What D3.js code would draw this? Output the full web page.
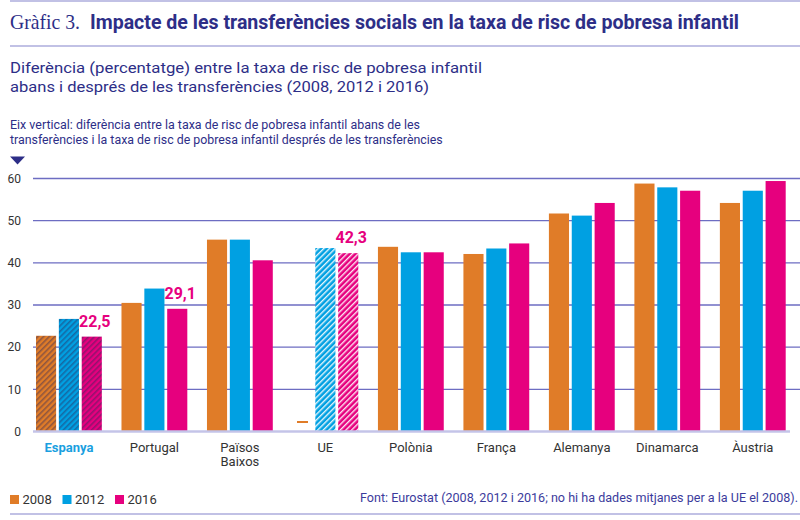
<!DOCTYPE html>
<html>
<head>
<meta charset="utf-8">
<script src="https://cdn.jsdelivr.net/npm/d3@7"></script>
<style>
body { margin: 0; background: #fff; }
svg { display: block; font-family: Roboto, "Liberation Sans", sans-serif; }
</style>
</head>
<body>
<svg width="800" height="520"></svg>
<script>
var categories = ['Espanya', 'Portugal', 'Països Baixos', 'UE', 'Polònia', 'França', 'Alemanya', 'Dinamarca', 'Àustria']
var years = ['2008', '2012', '2016']
var values2008 = [22.7, 30.5, 45.5, null, 43.8, 42.1, 51.7, 58.8, 54.2]
var values2012 = [26.7, 33.9, 45.5, 43.5, 42.5, 43.4, 51.2, 57.9, 57.1]
var values2016 = [22.5, 29.1, 40.6, 42.3, 42.5, 44.6, 54.2, 57.1, 59.4]
var yTicks = [0, 10, 20, 30, 40, 50, 60]
var labelled = [['Espanya', '2016', '22,5'], ['Portugal', '2016', '29,1'], ['UE', '2016', '42,3']]

var colors = {'2008': '#e07c28', '2012': '#00a0e2', '2016': '#e6007e'}
var navy = '#2d2e87'
var hatchStyle = {'Espanya': 'dark', 'UE': 'light'}

var series = {'2008': values2008, '2012': values2012, '2016': values2016}
var rows = []
categories.forEach(function(c, i){
    years.forEach(function(y){
        rows.push({cat: c, year: y, value: series[y][i]})
    })
})

var svg = d3.select('svg')

// hatch patterns
var defs = svg.append('defs')
years.forEach(function(y){
    ['dark', 'light'].forEach(function(kind){
        var p = defs.append('pattern')
            .attr('id', 'hatch-' + kind + '-' + y)
            .attr('patternUnits', 'userSpaceOnUse')
            .attr('width', 4)
            .attr('height', 4)
            .attr('patternTransform', 'rotate(45)')
        p.append('rect')
            .attr('width', 4).attr('height', 4)
            .attr('fill', colors[y])
        p.append('rect')
            .attr('width', kind == 'dark' ? 1.6 : 1.4).attr('height', 4)
            .attr('fill', kind == 'dark' ? 'rgba(45,40,90,0.45)' : 'rgba(255,255,255,0.9)')
    })
})

var x = d3.scaleBand()
    .domain(categories)
    .range([36, 785.7])
    .paddingInner(0.23)
    .paddingOuter(0)

var xYear = d3.scaleBand()
    .domain(years)
    .range([0, x.bandwidth()])
    .paddingInner(0.12)

var y = d3.scaleLinear()
    .domain([0, 60])
    .range([431.5, 178.5])

// header rules
svg.selectAll('line.rule')
    .data([1, 46, 514])
    .enter()
    .append('line')
    .attr('class', 'rule')
    .attr('x1', 10).attr('x2', 800)
    .attr('y1', function(d){ return d })
    .attr('y2', function(d){ return d })
    .style('stroke', '#acacdc')
    .style('stroke-width', 1.5)

svg.append('text')
    .attr('x', 10).attr('y', 29.3)
    .attr('textLength', 70).attr('lengthAdjust', 'spacingAndGlyphs')
    .style('font-family', '"Liberation Serif", "DejaVu Serif", serif')
    .style('font-size', '21px')
    .style('fill', navy)
    .text('Gràfic 3.')

svg.append('text')
    .attr('x', 90).attr('y', 29.3)
    .attr('textLength', 649).attr('lengthAdjust', 'spacingAndGlyphs')
    .style('font-size', '20px')
    .style('font-weight', 'bold')
    .style('fill', navy)
    .text('Impacte de les transferències socials en la taxa de risc de pobresa infantil')

var subtitle = [
    ['Diferència (percentatge) entre la taxa de risc de pobresa infantil', 72.7, 472],
    ['abans i després de les transferències (2008, 2012 i 2016)', 91.7, 419]
]
svg.selectAll('text.sub')
    .data(subtitle)
    .enter()
    .append('text')
    .attr('class', 'sub')
    .attr('x', 10)
    .attr('y', function(d){ return d[1] })
    .attr('textLength', function(d){ return d[2] })
    .attr('lengthAdjust', 'spacingAndGlyphs')
    .style('font-size', '15.5px')
    .style('fill', navy)
    .text(function(d){ return d[0] })

var axisNote = [
    ['Eix vertical: diferència entre la taxa de risc de pobresa infantil abans de les', 129, 410],
    ['transferències i la taxa de risc de pobresa infantil després de les transferències', 144, 432.7]
]
svg.selectAll('text.note')
    .data(axisNote)
    .enter()
    .append('text')
    .attr('class', 'note')
    .attr('x', 10)
    .attr('y', function(d){ return d[1] })
    .attr('textLength', function(d){ return d[2] })
    .attr('lengthAdjust', 'spacingAndGlyphs')
    .style('font-size', '12px')
    .style('fill', navy)
    .text(function(d){ return d[0] })

svg.append('path')
    .attr('d', 'M10,156.5 L25,156.5 L17.5,164.5 Z')
    .style('fill', navy)

// grid
svg.selectAll('line.grid')
    .data(yTicks.slice(1))
    .enter()
    .append('line')
    .attr('class', 'grid')
    .attr('x1', 33).attr('x2', 800)
    .attr('y1', function(d){ return y(d) })
    .attr('y2', function(d){ return y(d) })
    .style('stroke', '#6d6dc2')
    .style('stroke-width', 1.3)

svg.selectAll('text.ytick')
    .data(yTicks)
    .enter()
    .append('text')
    .attr('class', 'ytick')
    .attr('x', 21)
    .attr('y', function(d){ return y(d) })
    .attr('dy', '0.35em')
    .attr('text-anchor', 'end')
    .style('font-size', '12px')
    .style('fill', '#333')
    .text(function(d){ return d })

// bars
svg.selectAll('rect.bar')
    .data(rows.filter(function(d){ return d.value != null }))
    .enter()
    .append('rect')
    .attr('class', 'bar')
    .attr('x', function(d){ return x(d.cat) + xYear(d.year) })
    .attr('width', xYear.bandwidth())
    .attr('y', function(d){ return y(d.value) })
    .attr('height', function(d){ return y(0) - y(d.value) })
    .attr('fill', function(d){
        var h = hatchStyle[d.cat]
        return h ? 'url(#hatch-' + h + '-' + d.year + ')' : colors[d.year]
    })

// missing value marker
svg.selectAll('line.missing')
    .data(rows.filter(function(d){ return d.value == null }))
    .enter()
    .append('line')
    .attr('class', 'missing')
    .attr('x1', function(d){ return x(d.cat) + xYear(d.year) + xYear.bandwidth() / 2 - 5.5 })
    .attr('x2', function(d){ return x(d.cat) + xYear(d.year) + xYear.bandwidth() / 2 + 5.5 })
    .attr('y1', y(0) - 9.5)
    .attr('y2', y(0) - 9.5)
    .style('stroke', colors['2008'])
    .style('stroke-width', 2)

svg.append('line')
    .attr('x1', 33).attr('x2', 790)
    .attr('y1', y(0)).attr('y2', y(0))
    .style('stroke', '#c4c4e8')
    .style('stroke-width', 2.5)

// value labels
svg.selectAll('text.value')
    .data(labelled)
    .enter()
    .append('text')
    .attr('class', 'value')
    .attr('x', function(d){ return x(d[0]) + xYear(d[1]) + xYear.bandwidth() / 2 + 3 })
    .attr('y', function(d){
        var v = series[d[1]][categories.indexOf(d[0])]
        return y(v) - 10
    })
    .attr('text-anchor', 'middle')
    .style('font-size', '16px')
    .style('font-weight', 'bold')
    .style('fill', colors['2016'])
    .text(function(d){ return d[2] })

// category labels
var catLabels = svg.selectAll('text.cat')
    .data(categories)
    .enter()
    .append('text')
    .attr('class', 'cat')
    .attr('text-anchor', 'middle')
    .attr('y', 451.7)
    .style('font-size', '13px')
    .style('fill', function(d){ return d == 'Espanya' ? '#1a9fe0' : '#333' })
    .style('font-weight', function(d){ return d == 'Espanya' ? 'bold' : 'normal' })

catLabels.selectAll('tspan')
    .data(function(d){
        var parts = d == 'Països Baixos' ? ['Països', 'Baixos'] : [d]
        return parts.map(function(p){ return {text: p, cat: d} })
    })
    .enter()
    .append('tspan')
    .attr('x', function(d){ return x(d.cat) + x.bandwidth() / 2 })
    .attr('dy', function(d, i){ return i == 0 ? 0 : 14 })
    .text(function(d){ return d.text })

// legend
var legend = svg.selectAll('g.legend')
    .data(years)
    .enter()
    .append('g')
    .attr('class', 'legend')
    .attr('transform', function(d, i){ return 'translate(' + (10 + i * 52.5) + ',495)' })

legend.append('rect')
    .attr('width', 9).attr('height', 9)
    .attr('fill', function(d){ return colors[d] })

legend.append('text')
    .attr('x', 12.5).attr('y', 9)
    .style('font-size', '13px')
    .style('fill', '#333')
    .text(function(d){ return d })

svg.append('text')
    .attr('x', 360).attr('y', 502)
    .attr('textLength', 438).attr('lengthAdjust', 'spacingAndGlyphs')
    .style('font-size', '12.5px')
    .style('fill', '#3b3b9c')
    .text('Font: Eurostat (2008, 2012 i 2016; no hi ha dades mitjanes per a la UE el 2008).')
</script>
</body>
</html>
